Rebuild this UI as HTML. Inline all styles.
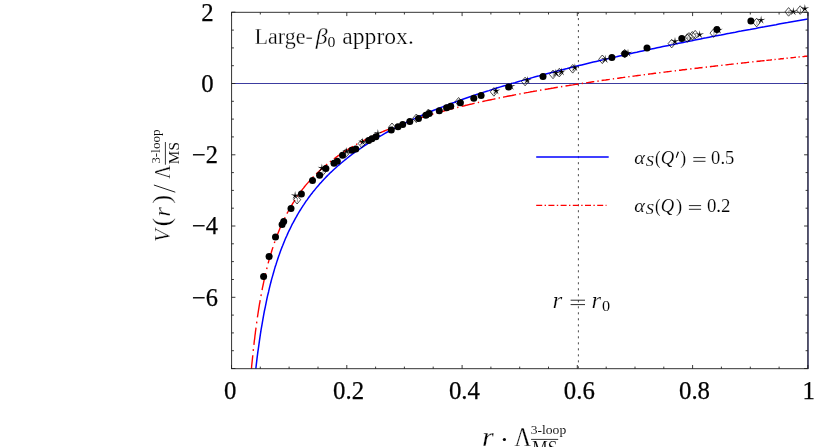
<!DOCTYPE html>
<html><head><meta charset="utf-8"><title>plot</title>
<style>
html,body{margin:0;padding:0;background:#fff;}
body{width:817px;height:447px;overflow:hidden;font-family:"Liberation Serif",serif;}
svg{display:block;position:absolute;left:0;top:0;}
text{font-family:"Liberation Serif",serif;fill:#000;}
.i{font-style:italic;}
.thin text{stroke:#fff;paint-order:fill;}
</style></head><body>
<svg width="817" height="447" viewBox="0 0 817 447">
<rect x="0" y="0" width="817" height="447" fill="#fff"/>
<line x1="231.6" y1="83.5" x2="807.9" y2="83.5" stroke="#3c3ca0" stroke-width="1"/>
<line x1="578.4" y1="12.3" x2="578.4" y2="368.8" stroke="#3a3a3a" stroke-width="0.9" stroke-dasharray="2.1 3.905" stroke-dashoffset="0.3"/>
<clipPath id="cp"><rect x="231.6" y="0" width="576.3" height="368.8"/></clipPath>
<g clip-path="url(#cp)" fill="none" stroke-linejoin="round">
<path d="M251.1,372.6 L251.3,370.6 L251.5,368.7 L251.6,366.8 L251.8,364.8 L252.0,362.9 L252.2,361.0 L252.4,359.0 L252.6,357.1 L252.8,355.2 M253.2,350.9 L253.4,349.2 M253.9,344.9 L254.1,343.0 L254.3,341.0 L254.6,339.1 L254.8,337.2 L255.0,335.3 L255.3,333.3 L255.5,331.4 L255.8,329.5 L256.0,327.6 M256.6,323.3 L256.8,321.6 M257.4,317.4 L257.7,315.5 L258.0,313.5 L258.3,311.6 L258.6,309.7 L258.9,307.8 L259.2,305.9 L259.5,304.0 L259.9,302.1 L260.2,300.2 M260.9,296.0 L261.3,294.3 M262.1,290.1 L262.4,288.2 L262.8,286.4 L263.2,284.5 L263.6,282.6 L264.0,280.7 L264.4,278.9 L264.8,277.0 L265.2,275.1 L265.7,273.3 M266.7,269.1 L267.1,267.5 M268.1,263.4 L268.6,261.6 L269.1,259.7 L269.7,257.9 L270.2,256.1 L270.7,254.3 L271.3,252.5 L271.8,250.7 L272.4,248.9 L273.0,247.1 M274.3,243.1 L274.9,241.6 M276.3,237.7 L276.9,235.9 L277.6,234.2 L278.3,232.5 L279.0,230.7 L279.7,229.0 L280.4,227.3 L281.1,225.6 L281.9,224.0 L282.6,222.3 M284.4,218.7 L285.1,217.2 M286.9,213.6 L287.8,212.0 L288.6,210.5 L289.5,208.9 L290.4,207.3 L291.3,205.8 L292.2,204.3 L293.1,202.8 L294.1,201.3 L295.0,199.8 M297.2,196.6 L298.1,195.3 M300.3,192.2 L301.4,190.8 L302.4,189.4 L303.5,188.1 L304.5,186.8 L305.6,185.4 L306.7,184.1 L307.8,182.9 L308.9,181.6 L310.1,180.3 M312.6,177.6 L313.6,176.6 M316.2,174.0 L317.4,172.8 L318.6,171.7 L319.8,170.5 L321.0,169.4 L322.2,168.4 L323.4,167.3 L324.7,166.2 L325.9,165.2 L327.2,164.1 M329.9,161.9 L331.1,161.0 M333.9,158.9 L335.1,158.0 L336.3,157.1 L337.5,156.2 L338.8,155.4 L340.0,154.5 L341.3,153.7 L342.5,152.9 L343.7,152.1 L345.0,151.3 M345.0,151.3 L346.3,150.4 L347.7,149.6 L349.1,148.7 L350.4,147.9 L351.8,147.1 L353.1,146.3 M356.1,144.6 L357.3,143.9 M360.3,142.3 L361.7,141.6 L363.1,140.9 L364.4,140.2 L365.8,139.5 L367.2,138.8 L368.6,138.1 L369.9,137.5 L371.3,136.8 L372.7,136.1 M375.8,134.7 L377.0,134.2 M380.1,132.8 L381.5,132.2 L382.9,131.6 L384.3,131.0 L385.7,130.4 L387.1,129.8 L388.5,129.3 L389.9,128.7 L391.3,128.1 L392.7,127.6 M395.8,126.4 L397.1,125.9 M400.2,124.8 L401.6,124.2 L403.0,123.7 L404.4,123.2 L405.9,122.7 L407.3,122.2 L408.7,121.7 L410.1,121.2 L411.5,120.8 L413.0,120.3 M416.1,119.2 L417.4,118.8 M420.5,117.8 L422.0,117.4 L423.4,116.9 L424.8,116.5 L426.2,116.0 L427.7,115.6 L429.1,115.2 L430.5,114.8 L432.0,114.3 L433.4,113.9 M436.6,113.0 L437.9,112.6 M441.0,111.8 L442.5,111.4 L443.9,111.0 L445.3,110.6 L446.8,110.2 L448.2,109.8 L449.7,109.4 L451.1,109.1 L452.5,108.7 L454.0,108.3 M457.2,107.5 L458.4,107.2 M461.6,106.4 L463.1,106.0 L464.5,105.7 L466.0,105.3 L467.4,105.0 L468.9,104.6 L470.3,104.3 L471.7,104.0 L473.2,103.6 L474.6,103.3 M477.8,102.6 L479.1,102.3 M482.3,101.6 L483.8,101.2 L485.2,100.9 L486.7,100.6 L488.1,100.3 L489.6,100.0 L491.0,99.7 L492.5,99.4 L493.9,99.1 L495.4,98.8 M498.6,98.1 L499.9,97.8 M503.1,97.2 L504.5,96.9 L506.0,96.6 L507.4,96.3 L508.9,96.0 L510.3,95.7 L511.8,95.5 L513.2,95.2 L514.7,94.9 L516.1,94.6 M519.3,94.0 L520.6,93.8 M523.8,93.2 L525.3,92.9 L526.8,92.6 L528.2,92.4 L529.7,92.1 L531.1,91.8 L532.6,91.6 L534.0,91.3 L535.5,91.1 L536.9,90.8 M540.1,90.2 L541.4,90.0 M544.7,89.5 L546.1,89.2 L547.6,89.0 L549.0,88.7 L550.5,88.5 L551.9,88.2 L553.4,88.0 L554.8,87.7 L556.3,87.5 L557.8,87.3 M561.0,86.7 L562.3,86.5 M565.5,86.0 L567.0,85.8 L568.4,85.6 L569.9,85.3 L571.3,85.1 L572.8,84.9 L574.2,84.6 L575.7,84.4 L577.2,84.2 L578.6,84.0 M581.8,83.5 L583.1,83.3 M586.2,82.8 L587.6,82.6 L588.9,82.4 L590.3,82.2 L591.6,82.0 L593.0,81.8 L594.3,81.6 M597.4,81.2 L598.7,81.0 M601.6,80.5 L603.0,80.3 L604.3,80.1 L605.7,80.0 L607.0,79.8 L608.4,79.6 L609.8,79.4 M612.8,78.9 L614.1,78.8 M617.1,78.4 L618.4,78.2 L619.8,78.0 L621.1,77.8 L622.5,77.6 L623.9,77.4 L625.2,77.2 M628.3,76.8 L629.6,76.6 M632.5,76.2 L633.9,76.1 L635.2,75.9 L636.6,75.7 L638.0,75.5 L639.3,75.4 L640.7,75.2 M643.7,74.8 L645.0,74.6 M648.0,74.2 L649.4,74.0 L650.7,73.9 L652.1,73.7 L653.4,73.5 L654.8,73.3 L656.1,73.2 M659.2,72.8 L660.5,72.6 M663.5,72.3 L664.8,72.1 L666.2,71.9 L667.5,71.7 L668.9,71.6 L670.3,71.4 L671.6,71.2 M674.7,70.9 L676.0,70.7 M679.0,70.3 L680.3,70.2 L681.7,70.0 L683.0,69.8 L684.4,69.7 L685.7,69.5 L687.1,69.4 M690.2,69.0 L691.5,68.8 M694.5,68.5 L695.8,68.3 L697.2,68.2 L698.5,68.0 L699.9,67.8 L701.2,67.7 L702.6,67.5 M705.7,67.2 L707.0,67.0 M709.9,66.7 L711.3,66.5 L712.7,66.4 L714.0,66.2 L715.4,66.0 L716.7,65.9 L718.1,65.7 M721.2,65.4 L722.5,65.2 M725.4,64.9 L726.8,64.8 L728.2,64.6 L729.5,64.4 L730.9,64.3 L732.2,64.1 L733.6,64.0 M736.7,63.6 L738.0,63.5 M740.9,63.2 L742.3,63.0 L743.7,62.9 L745.0,62.7 L746.4,62.6 L747.7,62.4 L749.1,62.3 M752.2,61.9 L753.5,61.8 M756.5,61.5 L757.8,61.3 L759.2,61.2 L760.5,61.0 L761.9,60.9 L763.3,60.7 L764.6,60.6 M766.3,60.4 L767.7,60.3 L769.1,60.1 L770.5,60.0 L771.9,59.8 M774.5,59.5 L775.7,59.4 M778.3,59.1 L779.7,59.0 L781.1,58.8 L782.5,58.7 L783.9,58.5 M786.5,58.3 L787.8,58.1 M790.4,57.9 L791.8,57.7 L793.2,57.6 L794.5,57.4 L795.9,57.3 M798.5,57.0 L799.8,56.9 M802.4,56.6 L803.8,56.5 L805.2,56.3 L806.6,56.2 L808.0,56.0" stroke="#f00" stroke-width="1.4"/>
<path d="M255.4,372.7 L256.2,365.5 L257.0,358.7 L257.8,352.3 L258.7,346.2 L259.5,340.4 L260.3,334.9 L261.1,329.7 L262.0,324.7 L262.8,319.9 L263.6,315.4 L264.4,311.0 L265.3,306.8 L266.1,302.8 L266.9,298.9 L267.7,295.2 L268.6,291.7 L269.4,288.2 L270.2,284.9 L271.0,281.7 L271.8,278.6 L272.7,275.6 L273.5,272.7 L274.3,269.9 L275.1,267.1 L276.0,264.5 L276.8,261.9 L277.6,259.4 L278.4,257.0 L279.3,254.6 L280.1,252.3 L280.9,250.1 L281.7,247.9 L282.6,245.8 L283.4,243.7 L284.2,241.7 L285.0,239.8 L285.8,237.8 L286.7,236.0 L287.5,234.1 L288.3,232.3 L289.1,230.6 L290.0,228.9 L290.8,227.2 L291.6,225.5 L292.4,223.9 L293.3,222.4 L294.1,220.8 L294.9,219.3 L295.7,217.8 L296.6,216.4 L297.4,214.9 L298.2,213.5 L299.0,212.1 L299.8,210.8 L300.7,209.5 L301.5,208.1 L302.3,206.9 L303.1,205.6 L304.0,204.4 L304.8,203.1 L305.6,201.9 L306.4,200.7 L307.3,199.6 L308.1,198.4 L308.9,197.3 L309.7,196.2 L310.5,195.1 L311.4,194.0 L312.2,193.0 L313.0,191.9 L313.8,190.9 L314.7,189.9 L315.5,188.9 L316.3,187.9 L317.1,186.9 L318.0,185.9 L318.8,185.0 L319.6,184.0 L320.4,183.1 L321.3,182.2 L322.1,181.3 L322.9,180.4 L323.7,179.5 L324.5,178.7 L325.4,177.8 L326.2,176.9 L327.0,176.1 L327.8,175.3 L328.7,174.5 L329.5,173.6 L330.3,172.8 L331.1,172.1 L332.0,171.3 L332.8,170.5 L333.6,169.7 L334.4,169.0 L335.3,168.2 L336.1,167.5 L336.9,166.7 L337.7,166.0 L338.5,165.3 L339.4,164.6 L340.2,163.9 L341.0,163.2 L341.8,162.5 L342.7,161.8 L343.5,161.1 L344.3,160.5 L345.1,159.8 L346.0,159.1 L346.8,158.5 L349.7,156.2 L352.6,154.0 L355.5,151.9 L358.4,149.9 L361.3,147.9 L364.2,145.9 L367.1,144.0 L370.0,142.2 L372.9,140.4 L375.8,138.6 L378.7,136.9 L381.6,135.3 L384.5,133.6 L387.4,132.0 L390.3,130.5 L393.2,128.9 L396.1,127.4 L399.0,126.0 L401.9,124.5 L404.8,123.1 L407.7,121.7 L410.6,120.4 L413.5,119.1 L416.4,117.7 L419.3,116.5 L422.2,115.2 L425.1,113.9 L428.0,112.7 L430.9,111.5 L433.8,110.3 L436.7,109.1 L439.6,108.0 L442.5,106.9 L445.4,105.7 L448.3,104.6 L451.2,103.5 L454.1,102.5 L457.0,101.4 L459.9,100.4 L462.8,99.3 L465.7,98.3 L468.6,97.3 L471.5,96.3 L474.4,95.3 L477.3,94.3 L480.2,93.4 L483.1,92.4 L486.0,91.5 L488.9,90.6 L491.8,89.6 L494.7,88.7 L497.6,87.8 L500.5,86.9 L503.4,86.0 L506.3,85.2 L509.2,84.3 L512.1,83.4 L515.0,82.6 L517.9,81.7 L520.8,80.9 L523.7,80.1 L526.6,79.3 L529.5,78.5 L532.4,77.6 L535.3,76.8 L538.2,76.1 L541.1,75.3 L544.0,74.5 L546.9,73.7 L549.8,72.9 L552.7,72.2 L555.6,71.4 L558.5,70.7 L561.4,69.9 L564.3,69.2 L567.2,68.5 L570.1,67.7 L573.0,67.0 L575.9,66.3 L578.8,65.6 L581.7,64.9 L584.6,64.2 L587.5,63.5 L590.4,62.8 L593.3,62.1 L596.2,61.4 L599.1,60.7 L602.0,60.0 L604.9,59.3 L607.8,58.7 L610.7,58.0 L613.6,57.3 L616.5,56.7 L619.4,56.0 L622.3,55.4 L625.2,54.7 L628.1,54.1 L631.0,53.4 L633.9,52.8 L636.8,52.2 L639.7,51.5 L642.6,50.9 L645.5,50.3 L648.4,49.7 L651.3,49.0 L654.2,48.4 L657.1,47.8 L660.0,47.2 L662.9,46.6 L665.8,46.0 L668.7,45.4 L671.6,44.8 L674.5,44.2 L677.4,43.6 L680.3,43.0 L683.2,42.4 L686.1,41.8 L689.0,41.2 L691.9,40.7 L694.8,40.1 L697.7,39.5 L700.6,38.9 L703.5,38.3 L706.4,37.8 L709.3,37.2 L712.2,36.6 L715.1,36.1 L718.0,35.5 L720.9,35.0 L723.8,34.4 L726.7,33.8 L729.6,33.3 L732.5,32.7 L735.4,32.2 L738.3,31.6 L741.2,31.1 L744.1,30.5 L747.0,30.0 L749.9,29.5 L752.8,28.9 L755.7,28.4 L758.6,27.8 L761.5,27.3 L764.4,26.8 L767.3,26.2 L770.2,25.7 L773.1,25.2 L776.0,24.7 L778.9,24.1 L781.8,23.6 L784.7,23.1 L787.6,22.6 L790.5,22.0 L793.4,21.5 L796.3,21.0 L799.2,20.5 L802.1,20.0 L805.0,19.5 L807.9,19.0" stroke="#00f" stroke-width="1.5"/>
</g>
<g fill="none" stroke="#000" stroke-width="0.7">
<polygon points="297.1,195.4 300.7,199.7 297.1,204.0 293.5,199.7"/>
<polygon points="322.6,167.2 326.2,171.5 322.6,175.8 319.0,171.5"/>
<polygon points="345.7,148.9 349.3,153.2 345.7,157.5 342.1,153.2"/>
<polygon points="361.8,139.2 365.4,143.5 361.8,147.8 358.2,143.5"/>
<polygon points="392.0,123.0 395.6,127.3 392.0,131.6 388.4,127.3"/>
<polygon points="416.3,114.0 419.9,118.3 416.3,122.6 412.7,118.3"/>
<polygon points="428.4,109.0 432.0,113.3 428.4,117.6 424.8,113.3"/>
<polygon points="458.6,97.5 462.2,101.8 458.6,106.1 455.0,101.8"/>
<polygon points="493.9,87.6 497.5,91.9 493.9,96.2 490.3,91.9"/>
<polygon points="525.1,77.2 528.7,81.5 525.1,85.8 521.5,81.5"/>
<polygon points="553.0,70.1 556.6,74.4 553.0,78.7 549.4,74.4"/>
<polygon points="559.3,68.3 562.9,72.6 559.3,76.9 555.7,72.6"/>
<polygon points="572.7,64.5 576.3,68.8 572.7,73.1 569.1,68.8"/>
<polygon points="602.3,55.0 605.9,59.3 602.3,63.6 598.7,59.3"/>
<polygon points="624.7,49.4 628.3,53.7 624.7,58.0 621.1,53.7"/>
<polygon points="671.7,39.3 675.3,43.6 671.7,47.9 668.1,43.6"/>
<polygon points="687.3,33.7 690.9,38.0 687.3,42.3 683.7,38.0"/>
<polygon points="689.0,32.6 692.6,36.9 689.0,41.2 685.4,36.9"/>
<polygon points="692.3,31.5 695.9,35.8 692.3,40.1 688.7,35.8"/>
<polygon points="695.2,30.4 698.8,34.7 695.2,39.0 691.6,34.7"/>
<polygon points="713.6,28.8 717.2,33.1 713.6,37.4 710.0,33.1"/>
<polygon points="756.6,18.3 760.2,22.6 756.6,26.9 753.0,22.6"/>
<polygon points="788.6,7.6 792.2,11.9 788.6,16.2 785.0,11.9"/>
<polygon points="800.2,5.8 803.8,10.1 800.2,14.4 796.6,10.1"/>
</g><g stroke="#8a8a8a" stroke-width="0.8" fill="none">
<line x1="297.4" y1="198.2" x2="297.4" y2="202.2"/>
<line x1="322.9" y1="170.0" x2="322.9" y2="174.0"/>
<line x1="346.0" y1="151.7" x2="346.0" y2="155.7"/>
<line x1="362.1" y1="142.0" x2="362.1" y2="146.0"/>
<line x1="392.3" y1="125.8" x2="392.3" y2="129.8"/>
<line x1="416.6" y1="116.8" x2="416.6" y2="120.8"/>
<line x1="428.7" y1="111.8" x2="428.7" y2="115.8"/>
<line x1="458.9" y1="100.3" x2="458.9" y2="104.3"/>
<line x1="494.2" y1="90.4" x2="494.2" y2="94.4"/>
<line x1="525.4" y1="80.0" x2="525.4" y2="84.0"/>
<line x1="553.3" y1="72.9" x2="553.3" y2="76.9"/>
<line x1="559.6" y1="71.1" x2="559.6" y2="75.1"/>
<line x1="573.0" y1="67.3" x2="573.0" y2="71.3"/>
<line x1="602.6" y1="57.8" x2="602.6" y2="61.8"/>
<line x1="625.0" y1="52.2" x2="625.0" y2="56.2"/>
<line x1="672.0" y1="42.1" x2="672.0" y2="46.1"/>
<line x1="687.6" y1="36.5" x2="687.6" y2="40.5"/>
<line x1="689.3" y1="35.4" x2="689.3" y2="39.4"/>
<line x1="692.6" y1="34.3" x2="692.6" y2="38.3"/>
<line x1="695.5" y1="33.2" x2="695.5" y2="37.2"/>
<line x1="713.9" y1="31.6" x2="713.9" y2="35.6"/>
<line x1="756.9" y1="21.1" x2="756.9" y2="25.1"/>
<line x1="788.9" y1="10.4" x2="788.9" y2="14.4"/>
<line x1="800.5" y1="8.6" x2="800.5" y2="12.6"/>
</g><g fill="#000" stroke="none">
<polygon points="295.1,191.1 295.7,194.7 299.4,194.2 296.1,195.9 297.7,199.2 295.1,196.7 292.5,199.2 294.1,195.9 290.8,194.2 294.5,194.7"/>
<polygon points="321.9,163.6 322.5,167.2 326.2,166.7 322.9,168.4 324.5,171.7 321.9,169.2 319.3,171.7 320.9,168.4 317.6,166.7 321.3,167.2"/>
<polygon points="346.5,147.0 347.1,150.6 350.8,150.1 347.5,151.8 349.1,155.1 346.5,152.6 343.9,155.1 345.5,151.8 342.2,150.1 345.9,150.6"/>
<polygon points="362.5,137.4 363.1,141.0 366.8,140.5 363.5,142.2 365.1,145.5 362.5,143.0 359.9,145.5 361.5,142.2 358.2,140.5 361.9,141.0"/>
<polygon points="377.9,129.0 378.5,132.6 382.2,132.1 378.9,133.8 380.5,137.1 377.9,134.6 375.3,137.1 376.9,133.8 373.6,132.1 377.3,132.6"/>
<polygon points="496.1,86.5 496.7,90.1 500.4,89.6 497.1,91.3 498.7,94.6 496.1,92.1 493.5,94.6 495.1,91.3 491.8,89.6 495.5,90.1"/>
<polygon points="511.2,81.9 511.8,85.5 515.5,85.0 512.2,86.7 513.8,90.0 511.2,87.5 508.6,90.0 510.2,86.7 506.9,85.0 510.6,85.5"/>
<polygon points="527.3,75.9 527.9,79.5 531.6,79.0 528.3,80.7 529.9,84.0 527.3,81.5 524.7,84.0 526.3,80.7 523.0,79.0 526.7,79.5"/>
<polygon points="555.9,68.7 556.5,72.3 560.2,71.8 556.9,73.5 558.5,76.8 555.9,74.3 553.3,76.8 554.9,73.5 551.6,71.8 555.3,72.3"/>
<polygon points="561.5,67.4 562.1,71.0 565.8,70.5 562.5,72.2 564.1,75.5 561.5,73.0 558.9,75.5 560.5,72.2 557.2,70.5 560.9,71.0"/>
<polygon points="574.9,63.2 575.5,66.8 579.2,66.3 575.9,68.0 577.5,71.3 574.9,68.8 572.3,71.3 573.9,68.0 570.6,66.3 574.3,66.8"/>
<polygon points="605.2,54.8 605.8,58.4 609.5,57.9 606.2,59.6 607.8,62.9 605.2,60.4 602.6,62.9 604.2,59.6 600.9,57.9 604.6,58.4"/>
<polygon points="628.0,48.7 628.6,52.3 632.3,51.8 629.0,53.5 630.6,56.8 628.0,54.3 625.4,56.8 627.0,53.5 623.7,51.8 627.4,52.3"/>
<polygon points="675.0,36.9 675.6,40.5 679.3,40.0 676.0,41.7 677.6,45.0 675.0,42.5 672.4,45.0 674.0,41.7 670.7,40.0 674.4,40.5"/>
<polygon points="699.7,30.2 700.3,33.8 704.0,33.3 700.7,35.0 702.3,38.3 699.7,35.8 697.1,38.3 698.7,35.0 695.4,33.3 699.1,33.8"/>
<polygon points="718.5,25.7 719.1,29.3 722.8,28.8 719.5,30.5 721.1,33.8 718.5,31.3 715.9,33.8 717.5,30.5 714.2,28.8 717.9,29.3"/>
<polygon points="761.1,15.6 761.7,19.2 765.4,18.7 762.1,20.4 763.7,23.7 761.1,21.2 758.5,23.7 760.1,20.4 756.8,18.7 760.5,19.2"/>
<polygon points="793.3,7.1 793.9,10.7 797.6,10.2 794.3,11.9 795.9,15.2 793.3,12.7 790.7,15.2 792.3,11.9 789.0,10.2 792.7,10.7"/>
<polygon points="804.9,4.1 805.5,7.7 809.2,7.2 805.9,8.9 807.5,12.2 804.9,9.7 802.3,12.2 803.9,8.9 800.6,7.2 804.3,7.7"/>
<circle cx="263.6" cy="276.4" r="3.5"/>
<circle cx="269.1" cy="256.5" r="3.5"/>
<circle cx="275.5" cy="236.9" r="3.5"/>
<circle cx="282.1" cy="224.4" r="3.5"/>
<circle cx="283.7" cy="221.6" r="3.5"/>
<circle cx="291.0" cy="208.4" r="3.5"/>
<circle cx="301.4" cy="194.0" r="3.5"/>
<circle cx="312.5" cy="180.6" r="3.5"/>
<circle cx="319.6" cy="175.2" r="3.5"/>
<circle cx="325.9" cy="168.5" r="3.5"/>
<circle cx="334.0" cy="163.2" r="3.5"/>
<circle cx="337.3" cy="161.3" r="3.5"/>
<circle cx="342.5" cy="155.2" r="3.5"/>
<circle cx="351.8" cy="150.2" r="3.5"/>
<circle cx="355.8" cy="148.9" r="3.5"/>
<circle cx="368.6" cy="140.6" r="3.5"/>
<circle cx="371.9" cy="138.8" r="3.5"/>
<circle cx="375.9" cy="136.8" r="3.5"/>
<circle cx="391.3" cy="130.1" r="3.5"/>
<circle cx="398.0" cy="126.8" r="3.5"/>
<circle cx="402.7" cy="124.5" r="3.5"/>
<circle cx="409.8" cy="121.5" r="3.5"/>
<circle cx="418.5" cy="118.5" r="3.5"/>
<circle cx="425.8" cy="115.2" r="3.5"/>
<circle cx="429.2" cy="113.4" r="3.5"/>
<circle cx="439.3" cy="110.7" r="3.5"/>
<circle cx="446.6" cy="107.8" r="3.5"/>
<circle cx="450.7" cy="106.2" r="3.5"/>
<circle cx="460.4" cy="102.7" r="3.5"/>
<circle cx="473.8" cy="98.2" r="3.5"/>
<circle cx="481.1" cy="95.5" r="3.5"/>
<circle cx="508.6" cy="87.0" r="3.5"/>
<circle cx="543.0" cy="76.6" r="3.5"/>
<circle cx="611.9" cy="57.5" r="3.5"/>
<circle cx="624.7" cy="53.7" r="3.5"/>
<circle cx="647.0" cy="48.1" r="3.5"/>
<circle cx="681.8" cy="38.5" r="3.5"/>
<circle cx="716.9" cy="29.6" r="3.5"/>
<circle cx="750.9" cy="20.9" r="3.5"/>
</g>
<line x1="808.0" y1="12.3" x2="808.0" y2="368.8" stroke="#3c3c88" stroke-width="1.3"/>
<rect x="231.6" y="12.3" width="576.3" height="356.4" fill="none" stroke="#2a2a2a" stroke-width="0.95"/>
<path d="M231.5,368.8 v-3.8 M231.5,12.3 v3.8 M260.3,368.8 v-2.2 M260.3,12.3 v2.2 M289.1,368.8 v-2.2 M289.1,12.3 v2.2 M318.0,368.8 v-2.2 M318.0,12.3 v2.2 M346.8,368.8 v-3.8 M346.8,12.3 v3.8 M375.6,368.8 v-2.2 M375.6,12.3 v2.2 M404.4,368.8 v-2.2 M404.4,12.3 v2.2 M433.2,368.8 v-2.2 M433.2,12.3 v2.2 M462.1,368.8 v-3.8 M462.1,12.3 v3.8 M490.9,368.8 v-2.2 M490.9,12.3 v2.2 M519.7,368.8 v-2.2 M519.7,12.3 v2.2 M548.5,368.8 v-2.2 M548.5,12.3 v2.2 M577.3,368.8 v-3.8 M577.3,12.3 v3.8 M606.2,368.8 v-2.2 M606.2,12.3 v2.2 M635.0,368.8 v-2.2 M635.0,12.3 v2.2 M663.8,368.8 v-2.2 M663.8,12.3 v2.2 M692.6,368.8 v-3.8 M692.6,12.3 v3.8 M721.4,368.8 v-2.2 M721.4,12.3 v2.2 M750.3,368.8 v-2.2 M750.3,12.3 v2.2 M779.1,368.8 v-2.2 M779.1,12.3 v2.2 M807.9,368.8 v-3.8 M807.9,12.3 v3.8 M231.6,12.2 h3.8 M807.9,12.2 h-3.8 M231.6,30.1 h2.3 M807.9,30.1 h-2.3 M231.6,47.9 h2.3 M807.9,47.9 h-2.3 M231.6,65.7 h2.3 M807.9,65.7 h-2.3 M231.6,83.5 h3.8 M807.9,83.5 h-3.8 M231.6,101.3 h2.3 M807.9,101.3 h-2.3 M231.6,119.1 h2.3 M807.9,119.1 h-2.3 M231.6,136.9 h2.3 M807.9,136.9 h-2.3 M231.6,154.8 h3.8 M807.9,154.8 h-3.8 M231.6,172.6 h2.3 M807.9,172.6 h-2.3 M231.6,190.4 h2.3 M807.9,190.4 h-2.3 M231.6,208.2 h2.3 M807.9,208.2 h-2.3 M231.6,226.0 h3.8 M807.9,226.0 h-3.8 M231.6,243.8 h2.3 M807.9,243.8 h-2.3 M231.6,261.6 h2.3 M807.9,261.6 h-2.3 M231.6,279.5 h2.3 M807.9,279.5 h-2.3 M231.6,297.3 h3.8 M807.9,297.3 h-3.8 M231.6,315.1 h2.3 M807.9,315.1 h-2.3 M231.6,332.9 h2.3 M807.9,332.9 h-2.3 M231.6,350.7 h2.3 M807.9,350.7 h-2.3 M231.6,368.5 h3.8 M807.9,368.5 h-3.8" stroke="#222" stroke-width="0.9" fill="none"/>
<line x1="536.2" y1="157" x2="608.7" y2="157" stroke="#00f" stroke-width="1.5"/>
<line x1="536.2" y1="205.4" x2="606.5" y2="205.4" stroke="#f00" stroke-width="1.4" stroke-dasharray="6 2.4 1.4 2.4"/>
<g opacity="0.996">
<g font-size="24.8px" stroke="#000" stroke-width="0.25">
<text x="230.3" y="399.2" text-anchor="middle">0</text>
<text x="348.6" y="399.2" text-anchor="middle">0.2</text>
<text x="464.4" y="399.2" text-anchor="middle">0.4</text>
<text x="579.3" y="399.2" text-anchor="middle">0.6</text>
<text x="694.5" y="399.2" text-anchor="middle">0.8</text>
<text x="808.8" y="399.2" text-anchor="middle">1</text>
<text x="213.6" y="20.5" text-anchor="end">2</text>
<text x="213.6" y="91.8" text-anchor="end">0</text>
<text x="218.0" y="163.1" text-anchor="end" font-size="24.4px">−2</text>
<text x="218.0" y="234.3" text-anchor="end" font-size="24.4px">−4</text>
<text x="218.0" y="305.6" text-anchor="end" font-size="24.4px">−6</text>
</g>
<g class="thin">
<text transform="translate(254.55,43.80) scale(0.9771,1)" font-size="22.6px" stroke-width="0.25">Large-</text>
<text transform="translate(315.74,43.80) scale(1.0495,1)" font-size="22.6px" stroke-width="0.25" class="i">β</text>
<text transform="translate(327.51,46.50) scale(1.0656,1)" font-size="14.8px" stroke-width="0.06">0</text>
<text transform="translate(342.26,43.80) scale(1.0469,1)" font-size="22.6px" stroke-width="0.25">approx.</text>
<text transform="translate(552.62,307.90) scale(1.0899,1)" font-size="23px" stroke-width="0.25" class="i">r</text>
<text transform="translate(591.53,307.90) scale(1.0667,1)" font-size="23px" stroke-width="0.25" class="i">r</text>
<text transform="translate(601.89,311.00) scale(1.0965,1)" font-size="14.8px" stroke-width="0.06">0</text>
<text transform="translate(634.18,163.90) scale(1.0700,1)" font-size="19px" stroke-width="0.12" class="i">α</text>
<text transform="translate(645.80,166.40) scale(1.1841,1)" font-size="13.6px" stroke-width="0.06" class="i">S</text>
<text transform="translate(655.08,164.10) scale(0.8936,1)" font-size="18.7px" stroke-width="0.12">(</text>
<text transform="translate(660.83,163.90) scale(1.0003,1)" font-size="18.6px" stroke-width="0.12" class="i">Q</text>
<text transform="translate(680.25,164.10) scale(0.9462,1)" font-size="18.7px" stroke-width="0.12">)</text>
<text transform="translate(711.12,164.10) scale(1.0014,1)" font-size="18.5px" stroke-width="0.12">0.5</text>
<text transform="translate(634.18,211.90) scale(1.0700,1)" font-size="19px" stroke-width="0.12" class="i">α</text>
<text transform="translate(645.80,214.40) scale(1.1841,1)" font-size="13.6px" stroke-width="0.06" class="i">S</text>
<text transform="translate(655.08,212.10) scale(0.8936,1)" font-size="18.7px" stroke-width="0.12">(</text>
<text transform="translate(660.83,211.90) scale(1.0003,1)" font-size="18.6px" stroke-width="0.12" class="i">Q</text>
<text transform="translate(676.12,212.10) scale(0.9865,1)" font-size="18.7px" stroke-width="0.12">)</text>
<text transform="translate(706.91,212.10) scale(1.0194,1)" font-size="18.5px" stroke-width="0.12">0.2</text>
<text transform="translate(481.96,445.70) scale(1.0762,1)" font-size="28px" stroke-width="0.25" class="i">r</text>
<text transform="translate(514.40,445.50) scale(0.8199,1)" font-size="28px" stroke-width="0.25">Λ</text>
<text transform="translate(530.66,433.60) scale(1.0985,1)" font-size="12.4px" stroke-width="0.06">3-loop</text>
<text transform="translate(532.23,455.30) scale(0.8700,1)" font-size="20px" stroke-width="0.12">MS</text>
<text transform="rotate(-90) translate(-242.08,170.00) scale(0.9286,1)" font-size="22.6px" stroke-width="0.25" class="i">V</text>
<text transform="rotate(-90) translate(-226.29,170.20) scale(1.0220,1)" font-size="24.7px" stroke-width="0.25">(</text>
<text transform="rotate(-90) translate(-216.78,170.00) scale(1.0899,1)" font-size="23px" stroke-width="0.25" class="i">r</text>
<text transform="rotate(-90) translate(-203.84,170.20) scale(1.0822,1)" font-size="24.7px" stroke-width="0.25">)</text>
<text transform="rotate(-90) translate(-178.80,170.00) scale(0.8188,1)" font-size="22.6px" stroke-width="0.25">Λ</text>
<text transform="rotate(-90) translate(-163.72,159.90) scale(1.0635,1)" font-size="12.4px" stroke-width="0.06">3-loop</text>
<text transform="rotate(-90) translate(-164.14,178.70) scale(0.9801,1)" font-size="15.6px" stroke-width="0.06">MS</text>
</g>
<path d="M570.6,300.2 H585.0 M570.6,304.6 H585.0" stroke="#000" stroke-width="0.85" fill="none"/>
<path d="M693.3,157.6 H705.5 M693.3,161.3 H705.5" stroke="#000" stroke-width="0.85" fill="none"/>
<path d="M688.9,205.6 H701.1 M688.9,209.3 H701.1" stroke="#000" stroke-width="0.85" fill="none"/>
<line x1="531.1" y1="439.4" x2="558.2" y2="439.4" stroke="#000" stroke-width="0.8"/>
<line x1="165.4" y1="142" x2="165.4" y2="164.7" stroke="#000" stroke-width="0.8"/>
<line x1="153.9" y1="185.0" x2="175.3" y2="192.2" stroke="#000" stroke-width="0.9"/>
<polygon points="679.0,151.9 677.7,151.5 675.8,157.5 676.6,157.9" fill="#000"/>
<circle cx="504.4" cy="439.5" r="1.6" fill="#000"/>
</g>
</svg></body></html>
